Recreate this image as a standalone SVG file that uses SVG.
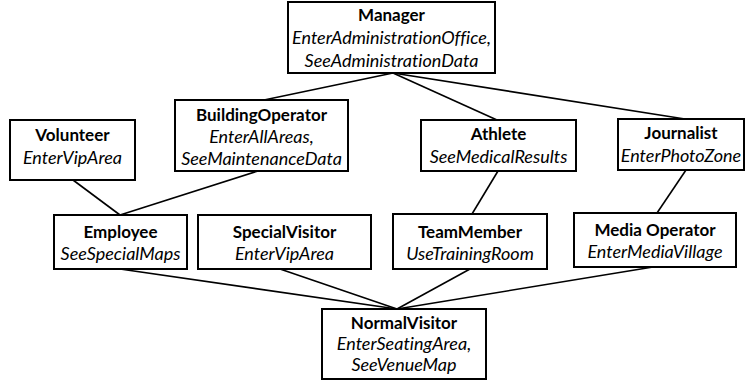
<svg xmlns="http://www.w3.org/2000/svg" width="745" height="383" viewBox="0 0 745 383">
  <style>
    .box { fill: #ffffff; stroke: #000000; stroke-width: 2; }
    .edge { stroke: #000000; stroke-width: 1.6; fill: none; }
    text { font-family: Lato, "Open Sans", sans-serif; fill: #000000; text-anchor: middle; font-variant-ligatures: none; }
    .title { font-weight: bold; font-size: 17px; }
    .perm { font-style: italic; font-size: 18px; }
  </style>
  <rect width="745" height="383" fill="#ffffff"/>

  <g id="connectors">
    <!-- Manager to its direct roles -->
    <line class="edge" x1="393" y1="73" x2="264" y2="100"/>
    <line class="edge" x1="393" y1="73" x2="497" y2="120"/>
    <line class="edge" x1="393" y1="73" x2="685" y2="119"/>
    <!-- middle layer to lower layer -->
    <line class="edge" x1="73" y1="180" x2="120" y2="215"/>
    <line class="edge" x1="258" y1="171" x2="120" y2="215"/>
    <line class="edge" x1="498" y1="171" x2="472" y2="214"/>
    <line class="edge" x1="686" y1="170" x2="657" y2="213"/>
    <!-- lower layer to NormalVisitor -->
    <line class="edge" x1="120" y1="269" x2="397" y2="309"/>
    <line class="edge" x1="280" y1="269" x2="397" y2="309"/>
    <line class="edge" x1="470" y1="269" x2="397" y2="309"/>
    <line class="edge" x1="653" y1="267" x2="397" y2="309"/>
  </g>

  <g id="manager">
    <rect class="box" x="288" y="2" width="207" height="71"/>
    <text class="title" x="391.5" y="21">Manager</text>
    <text class="perm" x="391.5" y="44">EnterAdministrationOffice,</text>
    <text class="perm" x="391.5" y="67">SeeAdministrationData</text>
  </g>

  <g id="volunteer">
    <rect class="box" x="10" y="120" width="125" height="60"/>
    <text class="title" x="72.5" y="141">Volunteer</text>
    <text class="perm" x="72.5" y="164">EnterVipArea</text>
  </g>

  <g id="buildingoperator">
    <rect class="box" x="175" y="100" width="173" height="71"/>
    <text class="title" x="261.5" y="121">BuildingOperator</text>
    <text class="perm" x="261.5" y="143">EnterAllAreas,</text>
    <text class="perm" x="261.5" y="165">SeeMaintenanceData</text>
  </g>

  <g id="athlete">
    <rect class="box" x="421" y="120" width="155" height="51"/>
    <text class="title" x="498.5" y="140">Athlete</text>
    <text class="perm" x="498.5" y="163">SeeMedicalResults</text>
  </g>

  <g id="journalist">
    <rect class="box" x="618" y="119" width="126" height="51"/>
    <text class="title" x="681" y="139">Journalist</text>
    <text class="perm" x="681" y="162">EnterPhotoZone</text>
  </g>

  <g id="employee">
    <rect class="box" x="54" y="215" width="133" height="54"/>
    <text class="title" x="120.5" y="238">Employee</text>
    <text class="perm" x="120.5" y="260">SeeSpecialMaps</text>
  </g>

  <g id="specialvisitor">
    <rect class="box" x="198" y="215" width="173" height="54"/>
    <text class="title" x="284.5" y="238">SpecialVisitor</text>
    <text class="perm" x="284.5" y="260">EnterVipArea</text>
  </g>

  <g id="teammember">
    <rect class="box" x="393" y="214" width="154" height="55"/>
    <text class="title" x="470" y="238">TeamMember</text>
    <text class="perm" x="470" y="260">UseTrainingRoom</text>
  </g>

  <g id="mediaoperator">
    <rect class="box" x="574" y="213" width="162" height="54"/>
    <text class="title" x="655" y="236">Media Operator</text>
    <text class="perm" x="655" y="258">EnterMediaVillage</text>
  </g>

  <g id="normalvisitor">
    <rect class="box" x="322" y="309" width="164" height="70"/>
    <text class="title" x="404" y="329">NormalVisitor</text>
    <text class="perm" x="404" y="350">EnterSeatingArea,</text>
    <text class="perm" x="404" y="371">SeeVenueMap</text>
  </g>
</svg>
